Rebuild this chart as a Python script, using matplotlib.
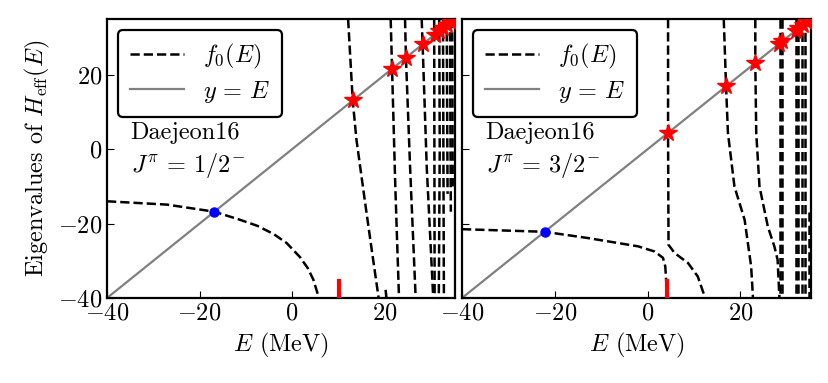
import matplotlib.pyplot as plt

plt.rcParams.update({
    "font.family": "serif",
    "font.serif": ["cmr10"],
    "mathtext.fontset": "cm",
    "axes.formatter.use_mathtext": True,
    "font.size": 17.5,
    "axes.linewidth": 1.6,
    "xtick.direction": "in",
    "ytick.direction": "in",
    "xtick.major.size": 5,
    "ytick.major.size": 5,
})

# ====== data ======
# J = 1/2- : branches of f0(E), each (E values, f0 values)
left_branches = [
    ([-40, -27, -16.8, -11.2, -7.5, -4.0, -1.2, 1.7, 3.4, 4.6, 5.8],
     [-14.0, -14.9, -16.8, -19.0, -20.6, -22.8, -25.2, -29.0, -32.0, -35.1, -40]),
    ([12.1, 13.1, 13.9, 15.7, 17.2, 18.7], [35, 13.1, 2.6, -13.7, -27, -40]),
    ([20.2, 20.4], [-37.8, -40]),
    ([21.3, 21.6, 22.3, 23.1], [35, 21.6, -10, -40]),
    ([24.4, 24.6, 25.5, 26.7], [35, 24.6, -5, -40]),
    ([28.0, 28.2, 29.1, 30.5], [35, 28.2, -5, -40]),
    ([30.7, 30.8], [35, -40]),
    ([31.8, 31.9, 31.7], [35, 0, -40]),
    ([32.6, 32.8], [35, -40]),
    ([33.4, 33.6], [35, -12]),
    ([34.1, 34.3], [35, -16.8]),
    ([34.6, 34.7], [35, -10]),
]
left_stars = [13.1, 21.6, 24.6, 28.2, 30.8, 31.8, 32.7, 33.5, 34.3, 34.8]
left_bound = -16.8
left_threshold = 10.2

# J = 3/2-
right_branches = [
    ([-40, -22.2, -12.8, -2.1, 1.5, 3.3, 3.8, 4.0, 4.2],
     [-21.5, -22.2, -23.9, -26.1, -27.5, -29.2, -31.5, -35.5, -40]),
    ([4.4, 4.4, 4.5, 5.8, 8.7, 10.8, 12.4], [35, 4.4, -25.7, -27.9, -30.6, -34.2, -40]),
    ([16.4, 16.9, 17.3, 18.7, 20.9, 22.3, 22.7], [35, 16.9, 4.4, -10, -19, -31.5, -40]),
    ([23.2, 23.2, 23.4, 24.1, 25.9, 27.3, 28.0, 28.4],
     [35, 23.2, 4.4, -10, -20.8, -26.1, -29.7, -40]),
    ([28.5, 28.5], [35, -40]),
    ([29.0, 29.0], [35, -40]),
    ([31.9, 31.9], [35, -40]),
    ([32.4, 32.4], [35, -40]),
    ([33.3, 33.3], [35, -40]),
    ([33.8, 33.8], [35, -40]),
    ([34.7, 34.7], [-17, -40]),
]
right_stars = [4.4, 16.9, 23.2, 28.4, 29.0, 31.9, 32.5, 33.5, 34.3]
right_bound = -22.2
right_threshold = 4.2

panels = [
    (left_branches, left_stars, left_bound, left_threshold, r"$J^\pi\,=\,1/2^{\!-}$"),
    (right_branches, right_stars, right_bound, right_threshold, r"$J^\pi\,=\,3/2^{\!-}$"),
]

fig = plt.figure(figsize=(8.29, 3.83), dpi=100)
ax_l = fig.add_axes([107 / 829, 1 - 298 / 383, 348 / 829, 279 / 383])
ax_r = fig.add_axes([462 / 829, 1 - 298 / 383, 349 / 829, 279 / 383], sharey=ax_l)

for ax, (branches, stars, bound, thr, label) in zip((ax_l, ax_r), panels):
    for i, (e, f) in enumerate(branches):
        ax.plot(e, f, "k--", lw=1.8, label=r"$f_0(E)$" if i == 0 else None)
    ax.plot([-40, 40], [-40, 40], color="gray", lw=1.6, label=r"$y\,=\,E$")
    ax.plot(stars, stars, "*", color="red", ms=13, zorder=5)
    ax.plot([bound], [bound], "o", color="blue", ms=6.5, zorder=5)
    ax.plot([thr, thr], [-40, -35.5], color="red", lw=3, zorder=5)

    ax.set_xlim(-40, 35.2)
    ax.set_ylim(-40, 35)
    ax.set_xticks([-40, -20, 0, 20])
    ax.set_yticks([-40, -20, 0, 20])
    ax.set_xlabel(r"$E$ (MeV)")

    leg = ax.legend(loc="upper left", fancybox=True, framealpha=1,
                    edgecolor="black", handlelength=2.2, handletextpad=0.8,
                    borderaxespad=0.45, borderpad=0.5, labelspacing=0.3)
    leg.get_frame().set_linewidth(1.6)
    ax.text(0.068, 0.57, "Daejeon16", transform=ax.transAxes)
    ax.text(0.068, 0.45, label, transform=ax.transAxes)

ax_l.set_ylabel(r"Eigenvalues of $H_{\rm eff}(E)$")
plt.setp(ax_r.get_yticklabels(), visible=False)

plt.savefig("out.png", dpi=100)
